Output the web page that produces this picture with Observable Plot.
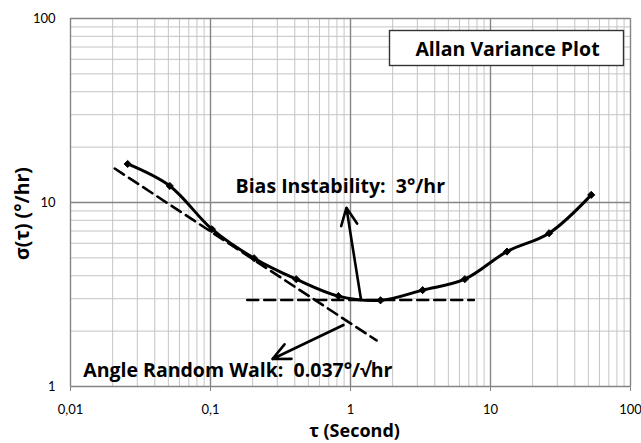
<!DOCTYPE html>
<html>
<head>
<meta charset="utf-8">
<script src="https://cdn.jsdelivr.net/npm/d3@7"></script>
<script src="https://cdn.jsdelivr.net/npm/@observablehq/plot@0.6"></script>
<style>
  html, body { margin: 0; padding: 0; background: white; }
</style>
</head>
<body>
<div id="chart"></div>
<script>
// Measured Allan deviation (tau in seconds, sigma in °/hr)
const taus = [0.0256, 0.0512, 0.1024, 0.2048, 0.4096, 0.8192, 1.6384, 3.2768, 6.5536, 13.1072, 26.2144, 52.4288];
const sigmas = [16.2, 12.3, 7.16, 4.98, 3.83, 3.10, 2.94, 3.34, 3.83, 5.41, 6.81, 11.0];

// Angle random walk asymptote (slope -1/2)
const arwTau = [0.0207, 1.535];
const arwSigma = [15.3, 1.78];

// Bias instability floor
const biasTau = [0.183, 7.6];
const biasSigma = [2.95, 2.95];

// Annotation arrows (from -> to)
const arrowTau1 = [1.19, 0.891];
const arrowSigma1 = [2.95, 2.16];
const arrowTau2 = [0.935, 0.277];
const arrowSigma2 = [9.36, 1.41];

// Annotation texts
const noteText = ["Bias Instability:\u00a0 3°/hr", "Angle Random Walk:\u00a0 0.037°/√hr"];
const noteTau = [0.151, 0.01233];
const noteSigma = [12.18, 1.213];

const title = "Allan Variance Plot";
const xTitle = "τ (Second)";
const yTitle = "σ(τ) (°/hr)";

const xTicks = [0.01, 0.1, 1, 10, 100];
const xTickLabels = ["0,01", "0,1", "1", "10", "100"];
const yTicks = [1, 10, 100];
const yTickLabels = ["1", "10", "100"];

const curve = taus.map((t, i) => ({t, s: sigmas[i]}));
const minorX = [], minorY = [];
for (const dec of [0.01, 0.1, 1, 10]) for (let k = 2; k <= 9; k++) minorX.push(dec * k);
for (const dec of [1, 10]) for (let k = 2; k <= 9; k++) minorY.push(dec * k);

const idx2 = [0, 1];
const boldFont = "'Open Sans', Lato, sans-serif";

const chart = Plot.plot({
  width: 641,
  height: 443,
  marginLeft: 70,
  marginRight: 11,
  marginTop: 18,
  marginBottom: 57,
  x: {type: "log", domain: [0.01, 100]},
  y: {type: "log", domain: [1, 100]},
  style: {fontFamily: "Lato, 'Open Sans', sans-serif", background: "white", color: "black"},
  marks: [
    Plot.gridX(minorX, {stroke: "#c4c4c4", strokeOpacity: 1, strokeWidth: 1}),
    Plot.gridY(minorY, {stroke: "#c4c4c4", strokeOpacity: 1, strokeWidth: 1}),
    Plot.gridX(xTicks, {stroke: "#858585", strokeOpacity: 1, strokeWidth: 1.4}),
    Plot.gridY(yTicks, {stroke: "#858585", strokeOpacity: 1, strokeWidth: 1.4}),
    Plot.axisX(xTicks, {tickFormat: d => xTickLabels[xTicks.indexOf(d)], tickSize: 5, tickPadding: 13, fontSize: 13, stroke: "#858585", fill: "black", label: null}),
    Plot.axisY(yTicks, {tickFormat: d => yTickLabels[yTicks.indexOf(d)], tickSize: 0, tickPadding: 15, fontSize: 13, fill: "black", label: null}),
    // title box
    Plot.frame({fill: "white", stroke: "#333", strokeWidth: 1.4, insetLeft: 319, insetRight: 7, insetTop: 12, insetBottom: 321}),
    Plot.text([title], {frameAnchor: "top-right", dx: -123, dy: 31, lineAnchor: "middle", textAnchor: "middle", fontFamily: boldFont, fontSize: 19.5, fontWeight: "bold", fill: "black"}),
    // asymptotes
    Plot.line(idx2, {x: i => arwTau[i], y: i => arwSigma[i], stroke: "black", strokeWidth: 2.6, strokeDasharray: "11,6"}),
    Plot.line(idx2, {x: i => biasTau[i], y: i => biasSigma[i], stroke: "black", strokeWidth: 2.6, strokeDasharray: "11,6"}),
    // data curve
    Plot.line(curve, {x: "t", y: "s", curve: "catmull-rom", stroke: "black", strokeWidth: 3}),
    Plot.dot(curve, {x: "t", y: "s", symbol: "diamond2", r: 3.2, fill: "black", stroke: "black", strokeWidth: 1}),
    // arrows
    Plot.arrow(idx2, {x1: i => arrowTau1[i], y1: i => arrowSigma1[i], x2: i => arrowTau2[i], y2: i => arrowSigma2[i], stroke: "black", strokeWidth: 2.6, headLength: 11, headAngle: 50}),
    // notes
    Plot.text(noteText, {x: (d, i) => noteTau[i], y: (d, i) => noteSigma[i], textAnchor: "start", lineAnchor: "middle", fontFamily: boldFont, fontSize: 19.5, fontWeight: "bold", fill: "black"}),
    // axis titles
    Plot.text([xTitle], {frameAnchor: "bottom", dx: 4, dy: 44.5, lineAnchor: "middle", textAnchor: "middle", fontFamily: boldFont, fontSize: 18, fontWeight: "bold", fill: "black"}),
    Plot.text([yTitle], {frameAnchor: "left", dx: -48, dy: 11, rotate: -90, lineAnchor: "middle", textAnchor: "middle", fontFamily: boldFont, fontSize: 19.5, fontWeight: "bold", fill: "black"})
  ]
});
document.getElementById("chart").appendChild(chart);
</script>
</body>
</html>
